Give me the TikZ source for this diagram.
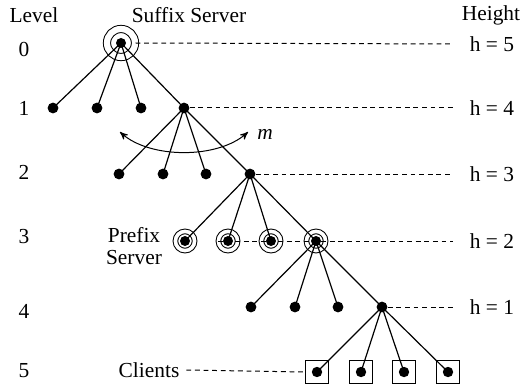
\documentclass[tikz,border=0pt]{standalone}
\usepackage{fontspec}
\setmainfont{Liberation Serif}
\newfontfamily\timesfont{Liberation Serif}
\usetikzlibrary{arrows}

\tikzset{
    leaf/.style={circle, fill, inner sep=0pt, minimum size=5.4pt},
    suffixsrv/.style={circle, draw, double, line width=0.5pt, double distance=3.1pt, inner sep=0pt, minimum size=14pt,
        path picture={\fill (path picture bounding box.center) circle (2.5pt);}},
    prefixsrv/.style={circle, draw, double, line width=0.5pt, double distance=1.8pt, inner sep=0pt, minimum size=9.6pt,
        path picture={\fill (path picture bounding box.center) circle (2.5pt);}},
    client/.style={draw, line width=0.5pt, inner sep=0pt, minimum size=11.5pt,
        path picture={\fill (path picture bounding box.center) circle (2.6pt);}},
    edge/.style={line width=0.6pt},
    guide/.style={line width=0.5pt, dash pattern=on 2.4pt off 1.9pt, shorten >=5pt},
    hlabel/.style={inner sep=3.33pt}
}

\begin{document}
\begin{tikzpicture}[x=0.5pt, y=-0.5pt, font=\timesfont\fontsize{10.7}{12.8}\selectfont]
        \useasboundingbox (0,0) rectangle (524,385);

        % column heads
        \node (lvl) at (34,15) {Level};
        \node (sfx) at (189,15) {Suffix Server};
        \node (hgt) at (491,15) {Height};

        \foreach \n/\y in {0/49,1/108,2/172,3/237,4/311,5/371}
            \node (l\n) at (24,\y) {\n};

        \foreach \n/\y in {5/44,4/108,3/174,2/241,1/307}
            \node[hlabel] (h\n) at (492,\y) {h = \n};

        % tree
        \node[suffixsrv] (r) at (121,43) {};
        \foreach \i/\x in {1/53,2/97,3/141,4/184}
            \node[leaf] (a\i) at (\x,108) {};
        \foreach \i/\x in {1/119,2/163,3/206,4/250}
            \node[leaf] (b\i) at (\x,174) {};
        \foreach \i/\x in {1/185,2/228,3/271,4/316}
            \node[prefixsrv] (c\i) at (\x,241) {};
        \foreach \i/\x in {1/251,2/295,3/338,4/382}
            \node[leaf] (d\i) at (\x,307) {};
        \foreach \i/\x in {1/317,2/361,3/404,4/448}
            \node[client] (e\i) at (\x,372) {};

        \foreach \i in {1,...,4} {
            \draw[edge] (r.center) -- (a\i.center);
            \draw[edge] (a4.center) -- (b\i.center);
            \draw[edge] (b4.center) -- (c\i.center);
            \draw[edge] (c4.center) -- (d\i.center);
            \draw[edge] (d4.center) -- (e\i.center);
        }

        % height guides
        \draw[guide] (r.east) -- (h5.west);
        \draw[guide] (a4.east) -- (h4.west);
        \draw[guide] (b4.east) -- (h3.west);
        \draw[guide] (c2.west) -- (h2.west);
        \draw[guide] (d4.east) -- (h1.west);

        \node[align=center] (pfx) at (134,246) {Prefix\\[-1.8pt]Server};
        \node (cli) at (149,370) {Clients};
        \draw[guide, shorten >=0pt] (cli.east) -- (e1.west);

        % fan-out
        \coordinate (ml) at (120,132);
        \coordinate (mr) at (248,132);
        \draw[line width=0.5pt, <->, >=stealth'] (ml) .. controls (150,159) and (218,159) .. (mr);
        \node (m) at (265,134) {\textit{m}};
\end{tikzpicture}
\end{document}
